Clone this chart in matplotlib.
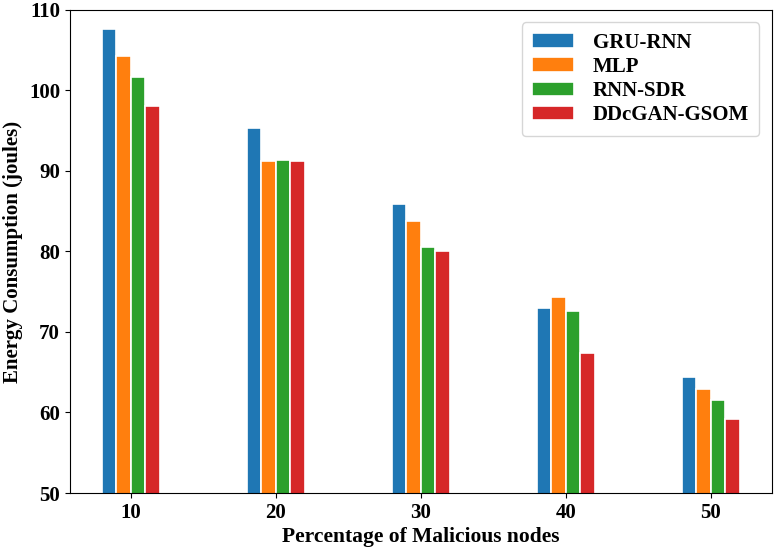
import numpy as np
import matplotlib
matplotlib.use('Agg')
import matplotlib.pyplot as plt

plt.rcParams['font.family'] = ['Liberation Serif', 'DejaVu Serif']
plt.rcParams['font.weight'] = 'bold'

# data
categories = ['10', '20', '30', '40', '50']
gru_rnn = [107.6, 95.3, 85.9, 73.0, 64.4]
mlp = [104.3, 91.2, 83.8, 74.4, 62.9]
rnn_sdr = [101.7, 91.3, 80.6, 72.6, 61.5]
ddcgan_gsom = [98.1, 91.2, 80.0, 67.4, 59.2]

series = [('GRU-RNN', gru_rnn, '#1f77b4'),
          ('MLP', mlp, '#ff7f0e'),
          ('RNN-SDR', rnn_sdr, '#2ca02c'),
          ('DDcGAN-GSOM', ddcgan_gsom, '#d62728')]

fig = plt.figure(figsize=(7.75, 5.49), dpi=100)
ax = fig.add_axes([0.090, 0.102, 0.906, 0.880])

x = np.arange(len(categories))
width = 0.1
for i, (name, vals, col) in enumerate(series):
    ax.bar(x + (i - 1.5) * width, vals, width, label=name, color=col,
           edgecolor='white', linewidth=1.2)

ax.set_ylim(50, 110)
ax.set_xticks(x)
ax.set_xticklabels(categories)
ax.tick_params(labelsize=15)
for lbl in ax.get_xticklabels() + ax.get_yticklabels():
    lbl.set_fontweight('bold')

ax.set_xlabel('Percentage of Malicious nodes', fontsize=15.5, fontweight='bold',
              labelpad=3)
ax.set_ylabel('Energy Consumption (joules)', fontsize=15, fontweight='bold')

ax.legend(loc='upper right', prop={'size': 15, 'weight': 'bold'},
          borderaxespad=0.6, handlelength=2.0, labelspacing=0.2,
          handletextpad=0.9, borderpad=0.5)

fig.savefig('out.png', dpi=100)
